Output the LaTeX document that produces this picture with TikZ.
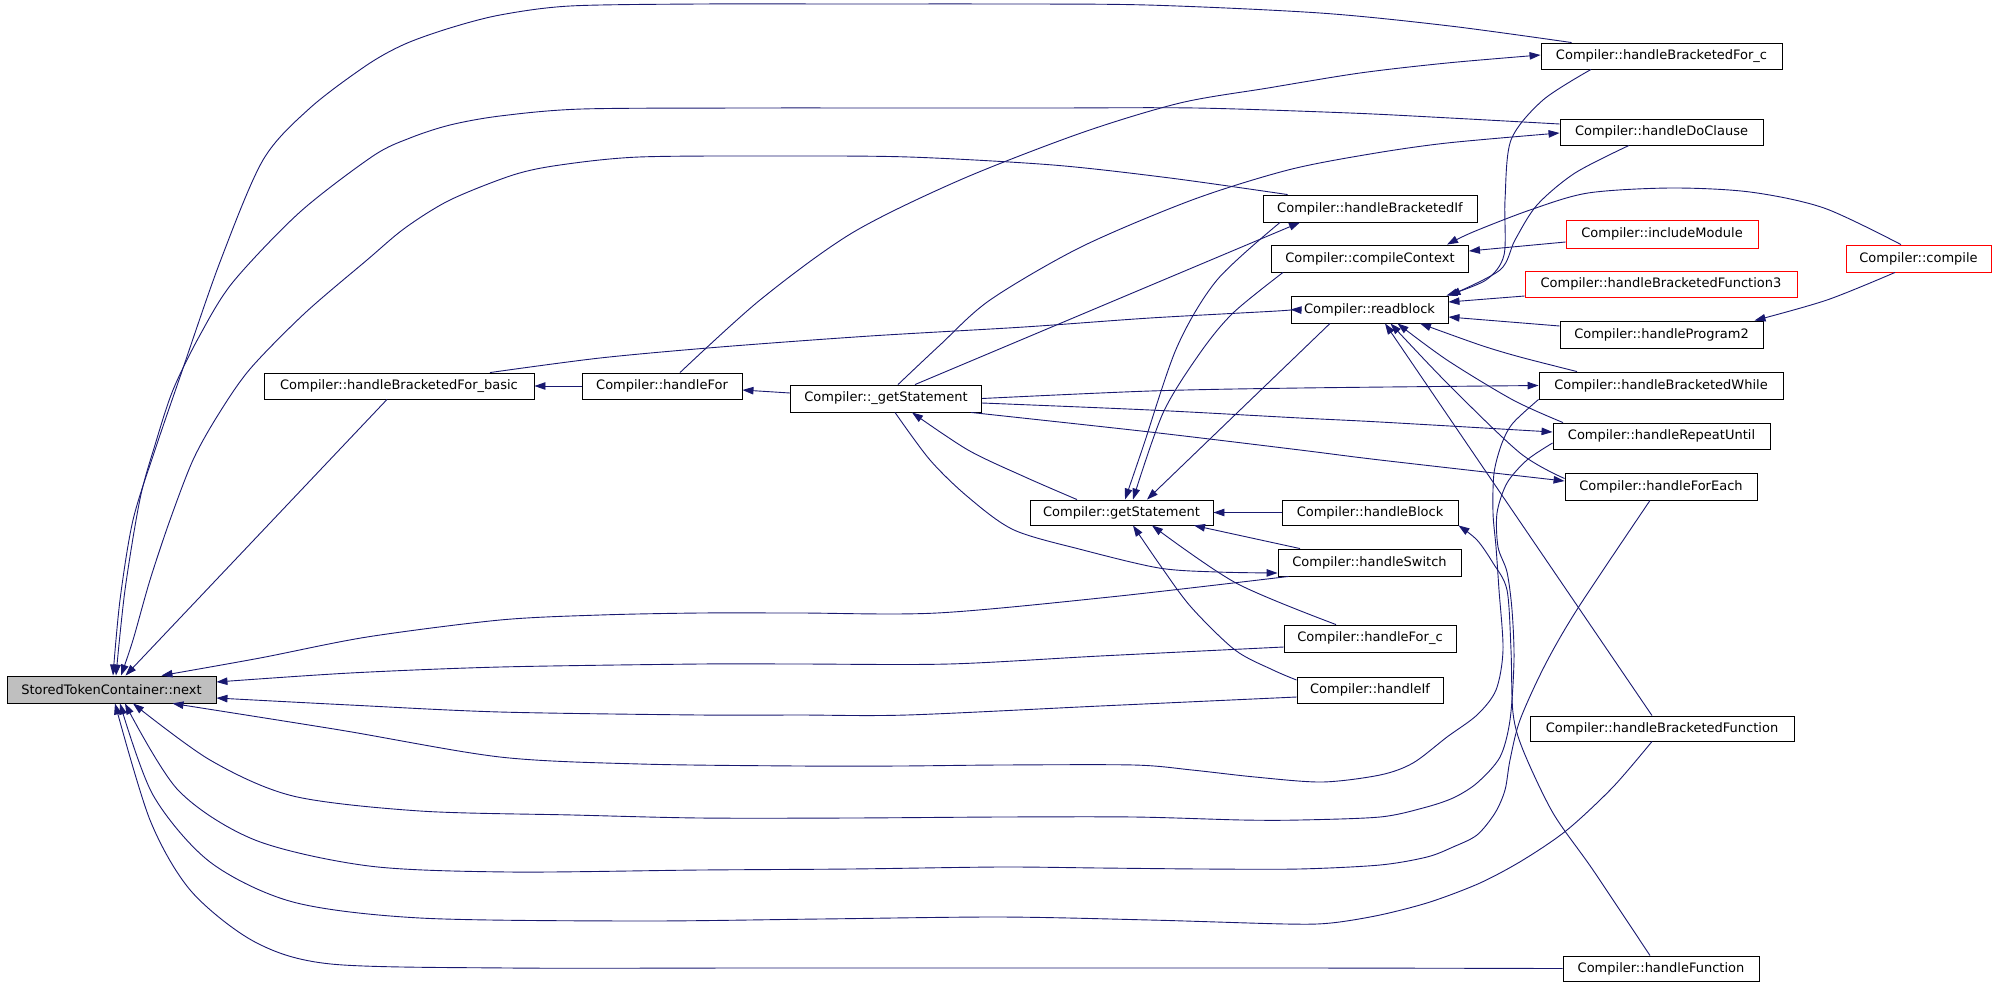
\documentclass[tikz,border=0pt]{standalone}
\usepackage{fontspec}
\setmainfont{DejaVu Sans}
\usetikzlibrary{arrows.meta}
\definecolor{edgeblue}{HTML}{191970}
\definecolor{nodegray}{HTML}{BFBFBF}
\begin{document}
\begin{tikzpicture}[x=1pt,y=-1pt,
  fbox/.style={draw=black, line width=0.9pt, inner sep=0pt, minimum height=26pt,
    font=\fontsize{13}{15}\selectfont},
  redbox/.style={fbox, draw=red},
  edge/.style={draw=edgeblue, line width=0.9pt, -{Triangle[length=11pt,width=7.5pt]}},
  sm/.style={smooth, tension=0.5}]
\useasboundingbox (0,0) rectangle (1997,994);

% nodes
\node[fbox, fill=nodegray, minimum width=209pt, minimum height=27pt] (next) at (111.5,689.5) {StoredTokenContainer::next};
\node[fbox, minimum width=270pt] (bfb) at (399,386) {Compiler::handleBracketedFor\_basic};
\node[fbox, minimum width=160pt] (hfor) at (662,386) {Compiler::handleFor};
\node[fbox, minimum width=191pt, minimum height=27pt] (gsu) at (886,398.5) {Compiler::\_getStatement};
\node[fbox, minimum width=241pt] (bfc) at (1661.5,56) {Compiler::handleBracketedFor\_c};
\node[fbox, minimum width=203pt] (doc) at (1661.5,132) {Compiler::handleDoClause};
\node[fbox, minimum width=214pt, minimum height=27pt] (bif) at (1370,208.5) {Compiler::handleBracketedIf};
\node[fbox, minimum width=197pt, minimum height=27pt] (cc) at (1370,258.5) {Compiler::compileContext};
\node[redbox, minimum width=192pt, minimum height=28pt] (im) at (1662,234) {Compiler::includeModule};
\node[redbox, minimum width=145pt, minimum height=27pt] (compile) at (1918.5,258.5) {Compiler::compile};
\node[redbox, minimum width=272pt] (bf3) at (1661,284) {Compiler::handleBracketedFunction3};
\node[fbox, minimum width=157pt, minimum height=27pt] (rb) at (1369.5,309.5) {Compiler::readblock};
\node[fbox, minimum width=203pt, minimum height=27pt] (hp2) at (1661.5,334.5) {Compiler::handleProgram2};
\node[fbox, minimum width=244pt, minimum height=27pt] (bw) at (1661,385.5) {Compiler::handleBracketedWhile};
\node[fbox, minimum width=217pt] (ru) at (1661.5,436) {Compiler::handleRepeatUntil};
\node[fbox, minimum width=192pt, minimum height=27pt] (fe) at (1661,486.5) {Compiler::handleForEach};
\node[fbox, minimum width=183pt, minimum height=25pt] (gs) at (1121.5,512.5) {Compiler::getStatement};
\node[fbox, minimum width=176pt, minimum height=25pt] (blk) at (1370,512.5) {Compiler::handleBlock};
\node[fbox, minimum width=183pt, minimum height=27pt] (sw) at (1369.5,562.5) {Compiler::handleSwitch};
\node[fbox, minimum width=172pt, minimum height=27pt] (fc) at (1370,638.5) {Compiler::handleFor\_c};
\node[fbox, minimum width=146pt] (hif) at (1370,690) {Compiler::handleIf};
\node[fbox, minimum width=264pt, minimum height=25pt] (bfn) at (1662,728.5) {Compiler::handleBracketedFunction};
\node[fbox, minimum width=196pt, minimum height=25pt] (fn) at (1661,968.5) {Compiler::handleFunction};

% edges into next (top)
\draw[edge] plot[sm] coordinates {([xshift=31pt]bfc.north west) (1450,26) (1320,13) (1147,5) (1000,4) (850,4) (700,4) (570,6) (500,15) (450,28) (405,44) (367,65) (310,108) (263,160) (220,262) (180,377) (155,450) (133,520) (120,600) ([xshift=1.5pt]next.north)};
\draw[edge] plot[sm] coordinates {([yshift=8pt]doc.west) (1450,118) (1350,113) (1196,108) (1050,108) (900,108) (750,108) (582,109) (500,116) (450,125) (410,138) (373,156) (300,212) (233,282) (200,335) (173,390) (155,445) (140,499) (125,590) ([xshift=4.5pt]next.north)};
\draw[edge] plot[sm] coordinates {([xshift=25pt]bif.north west) (1170,178) (1053,165) (909,157) (780,156) (639,157) (560,165) (513,175) (450,200) (405,228) (367,260) (305,313) (250,369) (218,415) (193,460) (170,520) (150,580) (133,640) ([xshift=9.5pt]next.north)};
\draw[edge] ([xshift=-12pt]bfb.south) -- ([xshift=14pt]next.north);
\draw[edge] plot[sm] coordinates {([xshift=11pt]sw.south west) (1110,597) (937,613) (800,613) (700,613) (600,615) (500,620) (367,637) (260,658) ([xshift=50pt]next.north)};
% edges into next (right)
\draw[edge] plot[sm] coordinates {([yshift=-8.5pt]fc.west) (1100,656) (949,664) (800,664) (700,664) (500,667) (350,673) ([yshift=7.5pt]next.east)};
\draw[edge] plot[sm] coordinates {([yshift=-7pt]hif.west) (1100,706) (907,715) (800,715) (700,715) (500,712) (350,705) ([yshift=-8.5pt]next.east)};
% edges into next (bottom)
\draw[edge] plot[sm] coordinates {(bw.south west) (1513,423) (1502,443) (1494,473) (1493,513) (1496,547) (1499,590) (1503,650) (1496,690) (1477,715) (1447,737) (1413,763) (1380,775) (1322,782) (1255,777) (1192,770) (1134,765) (1000,765) (900,766) (800,766) (640,764) (500,757) (340,730) ([xshift=61pt]next.south)};
\draw[edge] plot[sm] coordinates {([yshift=-7pt]ru.west) (1527,460) (1507,483) (1497,513) (1498,547) (1507,572) (1512,610) (1514,660) (1510,720) (1500,757) (1477,783) (1453,798) (1423,808) (1380,817) (1300,820) (1242,820) (1134,817) (1000,817) (850,818) (700,818) (573,815) (420,811) (293,796) (210,760) ([xshift=21.5pt]next.south)};
\draw[edge] plot[sm] coordinates {([xshift=-11pt]fe.south) (1578,608) (1545,665) (1520,720) (1510,760) (1505,790) (1495,813) (1477,835) (1453,847) (1427,857) (1380,865) (1299,869) (1203,869) (1100,868) (1000,867) (850,869) (700,870) (509,872) (369,866) (255,840) (178,790) ([xshift=13.5pt]next.south)};
\draw[edge] plot[sm] coordinates {([xshift=-10pt]bfn.south) (1613,787) (1567,830) (1523,860) (1480,883) (1430,902) (1380,915) (1331,923) (1286,924) (1150,920) (1000,917) (820,919) (637,921) (420,918) (293,902) (210,862) (153,795) ([xshift=8.5pt]next.south)};
\draw[edge] plot[sm] coordinates {(fn.west) (1300,968) (1000,968) (750,968) (509,968) (331,964) (255,942) (191,891) (150,820) ([xshift=3.5pt]next.south)};

% chain on the left
\draw[edge] (hfor.west) -- (bfb.east);
\draw[edge] ([yshift=5.5pt]gsu.west) -- ([yshift=-4pt]hfor.east);

% from left-middle nodes to the right
\draw[edge] plot[sm] coordinates {([xshift=91pt]bfb.north) (600,358) (720,347) (870,336) (1024,327) (1150,318) (1277,311) (rb.west)};
\draw[edge] plot[sm] coordinates {([xshift=18pt]hfor.north) (760,300) (852,233) (960,180) (1081,133) (1180,103) (1268,88) (1360,73) (1447,63) ([yshift=1pt]bfc.west)};
\draw[edge] plot[sm] coordinates {([xshift=12pt]gsu.north) (940,345) (990,300) (1081,247) (1192,200) (1288,170) (1370,154) (1447,143) ([yshift=-1pt]doc.west)};
\draw[edge] ([xshift=29pt]gsu.north) -- ([xshift=-70pt]bif.south);
\draw[edge] plot[sm] coordinates {(gsu.east) (1150,391) (1300,388) (bw.west)};
\draw[edge] plot[sm] coordinates {([yshift=-4.5pt]gsu.east) (1150,410) (1300,418) (1380,422) ([yshift=4pt]ru.west)};
\draw[edge] plot[sm] coordinates {([xshift=-11pt]gsu.south east) (1150,432) (1300,450) (1380,460) ([yshift=5.5pt]fe.west)};
\draw[edge] plot[sm] coordinates {([xshift=9pt]gsu.south) (930,460) (968,497) (1014,530) (1083,550) (1159,568) (1217,572) ([yshift=-10.5pt]sw.west)};

% into getStatement
\draw[edge] plot[sm] coordinates {([xshift=-90pt]bif.south) (1217,280) (1177,347) (1143,447) ([xshift=3.5pt]gs.north)};
\draw[edge] plot[sm] coordinates {([xshift=-87pt]cc.south) (1233,313) (1200,353) (1163,413) ([xshift=11.5pt]gs.north)};
\draw[edge] ([xshift=-39.5pt]rb.south) -- ([xshift=25.5pt]gs.north);
\draw[edge] (blk.west) -- (gs.east);
\draw[edge] ([xshift=-69.5pt]sw.north) -- ([xshift=72.5pt]gs.south);
\draw[edge] plot[sm] coordinates {([xshift=-34pt]fc.north) (1236,583) ([xshift=30.5pt]gs.south)};
\draw[edge] plot[sm] coordinates {([yshift=10pt]hif.west) (1273,670) (1235,650) (1191,607) (1160,565) ([xshift=11.5pt]gs.south)};
\draw[edge] plot[sm] coordinates {([xshift=-44.5pt]gs.north) (1025,477) (968,450) ([xshift=26pt]gsu.south)};

% right part
\draw[edge] plot[sm] coordinates {([xshift=-17.5pt]compile.north) (1824,208) (1750,192) (1671,188) (1588,193) (1530,210) (1473,232) ([xshift=77pt]cc.north)};
\draw[edge] ([yshift=-8pt]im.west) -- ([yshift=7.5pt]cc.east);
\draw[edge] ([yshift=-12pt]bf3.west) -- ([yshift=7.5pt]rb.east);
\draw[edge] ([yshift=8.5pt]hp2.west) -- ([yshift=-7.5pt]rb.east);
\draw[edge] plot[sm] coordinates {([xshift=-23.5pt]compile.south) (1827,300) ([xshift=93pt]hp2.north)};
\draw[edge] plot[sm] coordinates {([xshift=-84pt]bw.north) (1520,357) (1480,345) ([xshift=50.5pt]rb.south)};
\draw[edge] plot[sm] coordinates {([xshift=-98.5pt]ru.north) (1513,400) (1447,360) ([xshift=28pt]rb.south)};
\draw[edge] plot[sm] coordinates {([yshift=8pt]fe.west) (1520,453) (1447,383) ([xshift=21pt]rb.south)};
\draw[edge] ([xshift=-10pt]bfn.north) -- ([xshift=15.5pt]rb.south);
\draw[edge] plot[sm] coordinates {([xshift=-70.5pt]bfc.south) (1543,100) (1511,140) (1505,200) (1504,255) (1486,280) ([xshift=-2pt]rb.north east)};
\draw[edge] plot[sm] coordinates {([xshift=-32.5pt]doc.south) (1575,173) (1537,205) (1515,240) (1500,270) ([xshift=1pt]rb.north east)};
\draw[edge] plot[sm] coordinates {([xshift=-11pt]fn.north) (1593,870) (1553,813) (1523,750) (1513,713) (1511,650) (1507,590) (1493,563) (1477,540) (blk.south east)};
\end{tikzpicture}
\end{document}
